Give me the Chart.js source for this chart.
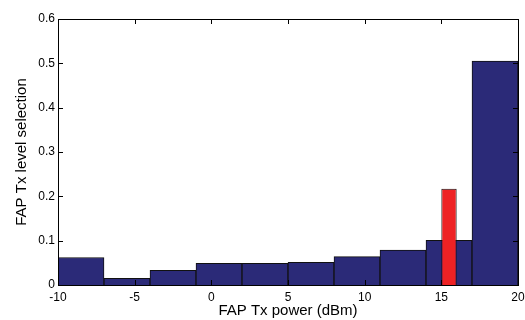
<!DOCTYPE html>
<html lang="en">
<head>
  <meta charset="UTF-8" />
  <title>FAP Tx level selection</title>
  <script src="https://cdn.jsdelivr.net/npm/chart.js"></script>
  <style>
    body {
      margin: 0;
      background: #fff;
    }
    #wrap {
      width: 525px;
      height: 320px;
    }
  </style>
</head>
<body>
  <div id="wrap"><canvas id="fapChart" width="525" height="320"></canvas></div>

  <script>
    // histogram bins (centre of each 3 dBm bin) and their share
    const binCenters = [-8.5, -5.5, -2.5, 0.5, 3.5, 6.5, 9.5, 12.5, 15.5, 18.5];
    const binValues = [0.062, 0.015, 0.033, 0.049, 0.049, 0.051, 0.064, 0.079, 0.101, 0.505];
    // highlighted level
    const markCenter = [15.5];
    const markValue = [0.217];
    const xTicks = [-10, -5, 0, 5, 10, 15, 20];
    const yTicks = [0, 0.1, 0.2, 0.3, 0.4, 0.5, 0.6];

    // MATLAB style box with inward ticks on all four sides
    const boxTicks = {
      id: 'boxTicks',
      afterDraw(chart) {
        const { ctx, chartArea: a, scales } = chart;
        const len = 5;
        ctx.save();
        ctx.strokeStyle = '#000';
        ctx.lineWidth = 1;
        ctx.beginPath();
        xTicks.forEach(v => {
          const x = Math.round(scales.x.getPixelForValue(v)) + 0.5;
          ctx.moveTo(x, a.bottom); ctx.lineTo(x, a.bottom - len);
          ctx.moveTo(x, a.top); ctx.lineTo(x, a.top + len);
        });
        yTicks.forEach(v => {
          const y = Math.round(scales.y.getPixelForValue(v)) + 0.5;
          ctx.moveTo(a.left, y); ctx.lineTo(a.left + len, y);
          ctx.moveTo(a.right, y); ctx.lineTo(a.right - len, y);
        });
        ctx.stroke();
        ctx.strokeRect(Math.round(a.left) + 0.5, Math.round(a.top) + 0.5,
          Math.round(a.right - a.left), Math.round(a.bottom - a.top));
        ctx.restore();
      }
    };

    const font = { family: '"Liberation Sans", Arial, sans-serif', size: 12 };
    const titleFont = { family: '"Liberation Sans", Arial, sans-serif', size: 15 };

    new Chart(document.getElementById('fapChart'), {
      type: 'bar',
      data: {
        datasets: [
          {
            label: 'FAP Tx level selection',
            data: binCenters.map((x, i) => ({ x, y: binValues[i] })),
            backgroundColor: '#2b2a78',
            borderColor: '#111',
            borderWidth: 1,
            barPercentage: 1,
            categoryPercentage: 1,
            grouped: false,
            order: 2
          },
          {
            label: 'selected',
            data: markCenter.map((x, i) => ({ x, y: markValue[i] })),
            backgroundColor: '#ee2224',
            borderColor: '#111',
            borderWidth: 1,
            barPercentage: 1 / 3,
            categoryPercentage: 1,
            grouped: false,
            order: 1
          }
        ]
      },
      options: {
        responsive: false,
        animation: false,
        layout: { padding: { top: 19, right: 7, left: 0, bottom: 0 } },
        plugins: {
          legend: { display: false },
          tooltip: { enabled: false }
        },
        scales: {
          x: {
            type: 'linear',
            min: -10,
            max: 20,
            offset: false,
            border: { display: false },
            grid: { display: false, drawTicks: false },
            afterBuildTicks: s => { s.ticks = xTicks.map(v => ({ value: v })); },
            afterFit: s => { s.height = 35; s.paddingLeft = 0; s.paddingRight = 0; },
            ticks: { color: '#000', font, padding: 5, maxRotation: 0 },
            title: {
              display: true,
              text: 'FAP Tx power (dBm)',
              color: '#000',
              font: titleFont,
              padding: { top: 0, bottom: 0 }
            }
          },
          y: {
            min: 0,
            max: 0.6,
            border: { display: false },
            grid: { display: false, drawTicks: false },
            afterBuildTicks: s => { s.ticks = yTicks.map(v => ({ value: v })); },
            afterFit: s => { s.width = 58; s.paddingTop = 0; s.paddingBottom = 0; },
            ticks: { color: '#000', font, padding: 3, callback: v => String(v) },
            title: {
              display: true,
              text: 'FAP Tx level selection',
              color: '#000',
              font: titleFont,
              padding: { top: 13, bottom: 0 }
            }
          }
        }
      },
      plugins: [boxTicks]
    });
  </script>
</body>
</html>
